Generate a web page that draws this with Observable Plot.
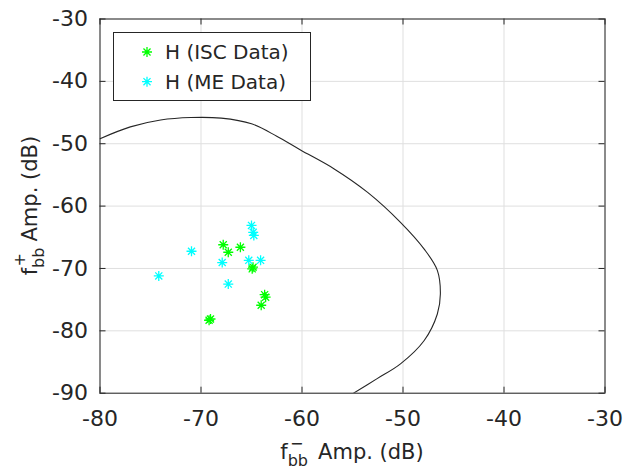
<!DOCTYPE html>
<html>
<head>
<meta charset="utf-8">
<script src="https://cdn.jsdelivr.net/npm/d3@7"></script>
<script src="https://cdn.jsdelivr.net/npm/@observablehq/plot@0.6"></script>
<style>
  html, body { margin: 0; padding: 0; background: #fff; }
</style>
</head>
<body>
<div id="chart"></div>
<script>
// ---- data ----
const xTicks = [-80, -70, -60, -50, -40, -30];
const yTicks = [-90, -80, -70, -60, -50, -40, -30];

const iscX = [-67.8, -67.3, -66.1, -64.93, -64.85, -63.7, -63.6, -64.04, -69.06, -69.2];
const iscY = [-66.2, -67.4, -66.6, -70.06, -69.8, -74.2, -74.6, -75.9, -78.1, -78.3];

const meX = [-65.0, -64.83, -64.77, -70.94, -67.9, -65.27, -64.1, -74.18, -67.3];
const meY = [-63.1, -64.2, -64.7, -67.24, -69.05, -68.7, -68.7, -71.2, -72.5];

const curveX = [-80, -77, -74, -71, -68, -65, -62.5, -60.15, -56.85, -53.5, -50.25, -47.9, -46.6, -46.3, -46.6, -47.9, -50.25, -52.6, -54.9];
const curveY = [-49.2, -47.3, -46.2, -45.8, -45.9, -46.8, -48.8, -51.0, -54.0, -57.8, -62.6, -66.9, -70.3, -74.1, -77.3, -81.55, -85.3, -87.7, -90];

const seriesNames = ["H (ISC Data)", "H (ME Data)"];
const seriesColors = ["#00ff00", "#00ffff"];

// ---- build tables ----
const isc = iscX.map((x, i) => ({x, y: iscY[i]}));
const me = meX.map((x, i) => ({x, y: meY[i]}));
const curve = curveX.map((x, i) => ({x, y: curveY[i]}));

// MATLAB-like 8-arm asterisk
const star = {
  draw(ctx, size) {
    const r = Math.sqrt(size / Math.PI);
    for (let k = 0; k < 4; k++) {
      const a = k * Math.PI / 4;
      const dx = r * Math.cos(a), dy = r * Math.sin(a);
      ctx.moveTo(-dx, -dy);
      ctx.lineTo(dx, dy);
    }
  }
};

const W = 623, H = 472;
const mL = 99.5, mR = 18.5, mT = 18.5, mB = 79.3;
const plotW = W - mL - mR, plotH = H - mT - mB;
const ink = "#262626";
const font = "'DejaVu Sans', sans-serif";
const fmt = d => String(d); // hyphen-minus like MATLAB

const svg = Plot.plot({
  width: W,
  height: H,
  marginLeft: mL,
  marginRight: mR,
  marginTop: mT,
  marginBottom: mB,
  x: {domain: [-80, -30]},
  y: {domain: [-90, -30]},
  style: {fontFamily: font, background: "white", color: ink},
  marks: [
    Plot.gridX(xTicks, {stroke: "#dfdfdf", strokeOpacity: 1}),
    Plot.gridY(yTicks, {stroke: "#dfdfdf", strokeOpacity: 1}),
    Plot.line(curve, {x: "x", y: "y", curve: "catmull-rom", stroke: ink, strokeWidth: 1.1, clip: true}),
    Plot.dot(isc, {x: "x", y: "y", symbol: star, r: 5, fill: "none", stroke: seriesColors[0], strokeWidth: 1.3}),
    Plot.dot(me, {x: "x", y: "y", symbol: star, r: 5, fill: "none", stroke: seriesColors[1], strokeWidth: 1.3}),
    Plot.frame({stroke: ink, strokeWidth: 1}),
    // inward ticks
    Plot.tickX(xTicks, {x: d => d, insetTop: plotH - 6, stroke: ink}),
    Plot.tickX(xTicks, {x: d => d, insetBottom: plotH - 6, stroke: ink}),
    Plot.tickY(yTicks, {y: d => d, insetRight: plotW - 6, stroke: ink}),
    Plot.tickY(yTicks, {y: d => d, insetLeft: plotW - 6, stroke: ink}),
    Plot.axisX(xTicks, {tickSize: 0, tickPadding: 17, fontSize: 22, label: null, fill: ink, tickFormat: fmt}),
    Plot.axisY(yTicks, {tickSize: 0, tickPadding: 12, fontSize: 22, label: null, fill: ink, tickFormat: fmt})
  ]
});

const s = d3.select(svg);

// x label
const xl = s.append("text")
  .attr("x", mL + plotW / 2).attr("y", 459)
  .attr("text-anchor", "middle")
  .attr("font-family", font).attr("font-size", 21).attr("fill", ink);
xl.append("tspan").text("f");
xl.append("tspan").attr("font-size", 16).attr("dy", 7).text("bb");
xl.append("tspan").attr("font-size", 16).attr("dx", -18).attr("dy", -17).text("\u2212");
xl.append("tspan").attr("dx", 8).attr("dy", 10).text(" Amp. (dB)");

// y label
const yl = s.append("text")
  .attr("transform", `translate(37,${mT + plotH / 2}) rotate(-90)`)
  .attr("text-anchor", "middle")
  .attr("font-family", font).attr("font-size", 21).attr("fill", ink);
yl.append("tspan").text("f");
yl.append("tspan").attr("font-size", 16).attr("dy", 7).text("bb");
yl.append("tspan").attr("font-size", 16).attr("dx", -19).attr("dy", -19).text("+");
yl.append("tspan").attr("dx", 5).attr("dy", 12).text(" Amp. (dB)");

// legend
const lg = s.append("g");
lg.append("rect").attr("x", 113.5).attr("y", 32.5).attr("width", 197).attr("height", 68)
  .attr("fill", "white").attr("stroke", ink).attr("stroke-width", 1);
seriesNames.forEach((name, i) => {
  const cy = 52 + i * 29.7;
  const p = d3.path();
  star.draw(p, Math.PI * 25);
  lg.append("path").attr("d", p.toString())
    .attr("transform", `translate(147,${cy})`)
    .attr("fill", "none").attr("stroke", seriesColors[i]).attr("stroke-width", 1.3);
  lg.append("text").attr("x", 165).attr("y", cy).attr("dy", "0.36em")
    .attr("text-anchor", "start")
    .attr("font-family", font).attr("font-size", 20).attr("fill", ink)
    .text(name);
});

document.getElementById("chart").appendChild(svg);
</script>
</body>
</html>
